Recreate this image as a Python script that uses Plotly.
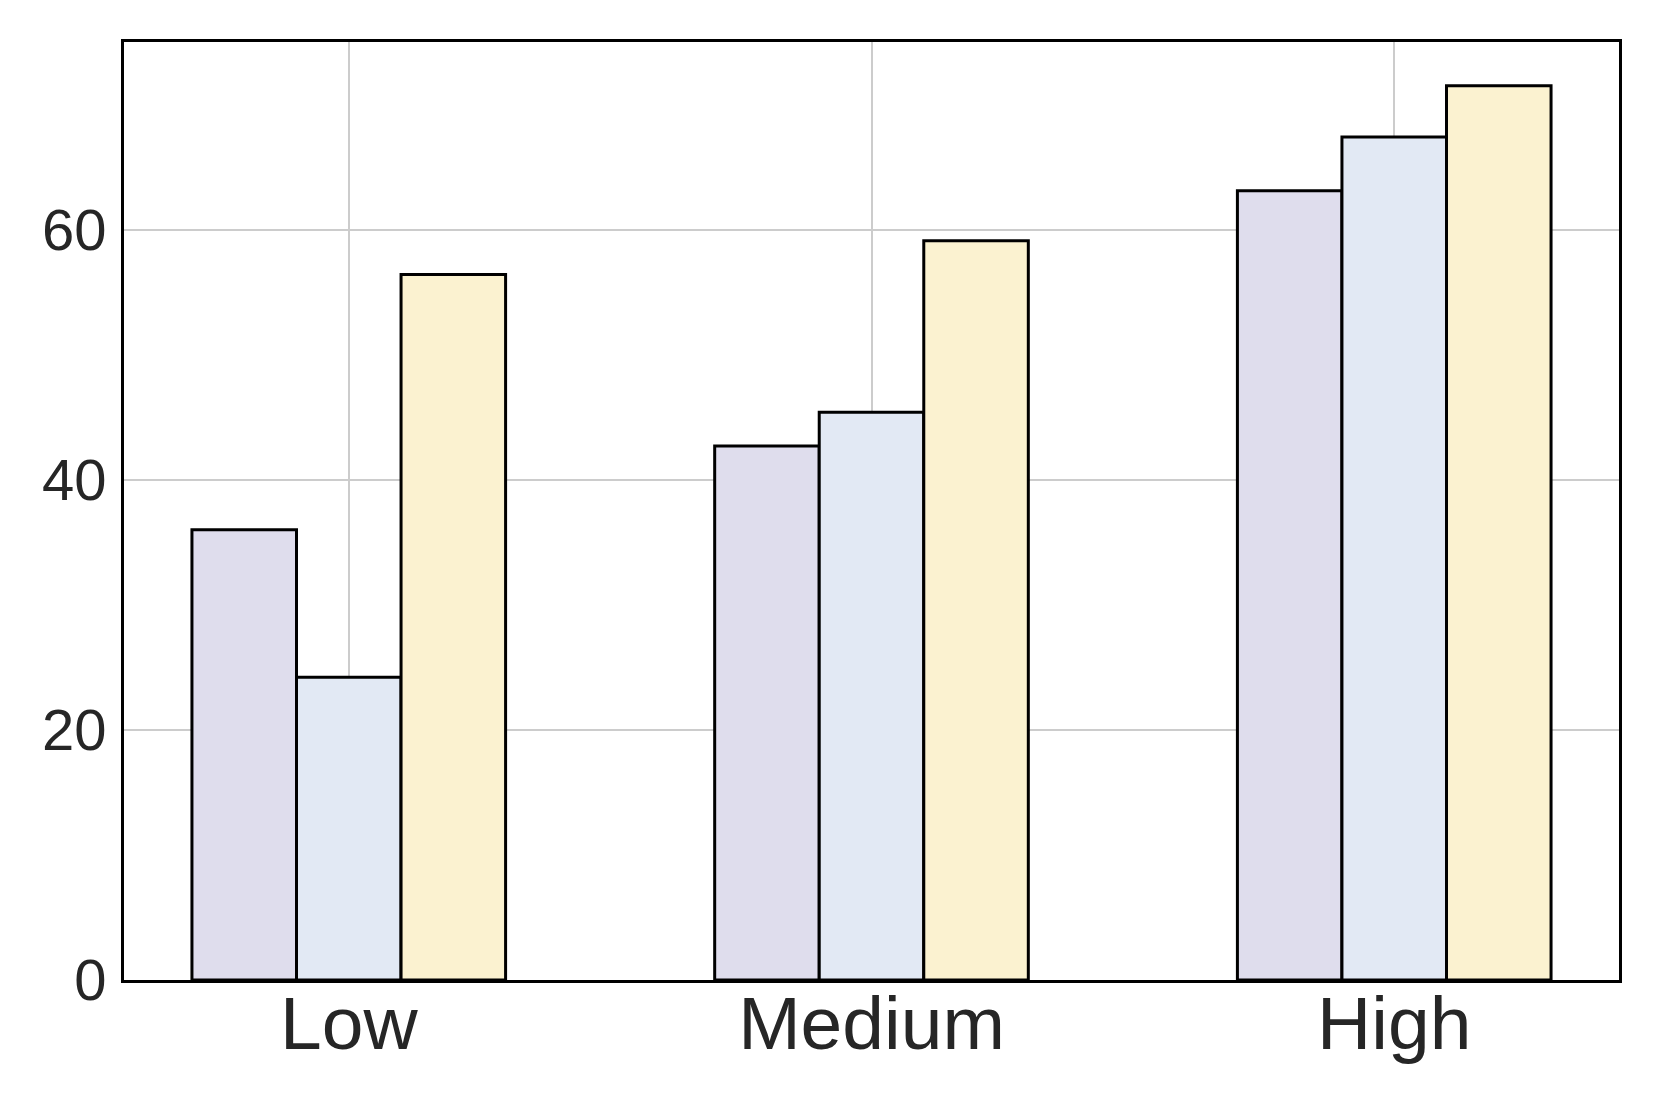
import plotly.graph_objects as go

categories = ["Low", "Medium", "High"]
series_a = [36.0, 42.7, 63.1]
series_b = [24.2, 45.4, 67.4]
series_c = [56.4, 59.1, 71.5]
y_ticks = [0, 20, 40, 60]

colors = ["#dfdded", "#e2e9f4", "#fbf2d0"]

fig = go.Figure()
for vals, col in zip([series_a, series_b, series_c], colors):
    fig.add_trace(go.Bar(x=categories, y=vals, marker=dict(color=col, line=dict(color="black", width=3))))

# page has an 8px body margin, so margins are shifted by that much
fig.update_layout(
    width=1661, height=1107,
    margin=dict(l=116, r=50, t=34, b=135),
    plot_bgcolor="white", paper_bgcolor="white",
    barmode="group", bargap=0.4, bargroupgap=0,
    showlegend=False,
    font=dict(family="Liberation Sans, Arial", color="#262626"),
)
fig.update_xaxes(
    range=[-0.43, 2.43], showgrid=True, gridcolor="#cccccc", gridwidth=2,
    showline=True, mirror=True, linecolor="black", linewidth=3,
    tickfont=dict(size=75), ticks="", ticklabelstandoff=-24,
)
fig.update_yaxes(
    range=[0, 75], tickvals=y_ticks, showgrid=True, gridcolor="#cccccc", gridwidth=2,
    zeroline=False, showline=True, mirror=True, linecolor="black", linewidth=3,
    tickfont=dict(size=58), ticks="", ticklabelstandoff=3,
)

fig.write_html("out.html")
